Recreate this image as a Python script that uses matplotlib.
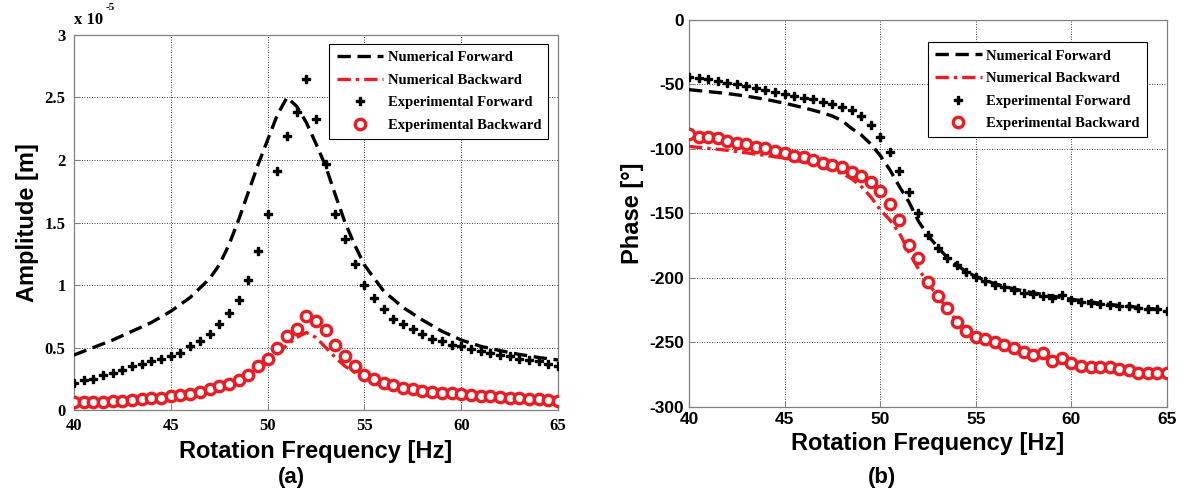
import numpy as np
import matplotlib
matplotlib.use('Agg')
import matplotlib.pyplot as plt
from matplotlib.ticker import FuncFormatter

plt.rcParams['axes.unicode_minus'] = False

# ---- data ----
# experimental points every 0.5 Hz
f_exp = np.arange(40, 65.01, 0.5)

# amplitude in units of 1e-5 m
amp_exp_fwd = [0.22, 0.24, 0.25, 0.28, 0.30, 0.32, 0.35, 0.37, 0.39, 0.41,
               0.43, 0.46, 0.51, 0.55, 0.61, 0.69, 0.78, 0.88, 1.04, 1.27,
               1.57, 1.91, 2.19, 2.38, 2.65, 2.33, 1.97, 1.57, 1.37, 1.17,
               1.00, 0.90, 0.81, 0.73, 0.69, 0.645, 0.605, 0.57, 0.55, 0.52,
               0.51, 0.49, 0.47, 0.46, 0.44, 0.43, 0.41, 0.40, 0.39, 0.37, 0.35]
amp_exp_bwd = [0.062, 0.064, 0.066, 0.068, 0.07, 0.075, 0.08, 0.085, 0.093, 0.10,
               0.11, 0.12, 0.13, 0.145, 0.165, 0.19, 0.21, 0.24, 0.28, 0.35,
               0.41, 0.50, 0.59, 0.65, 0.75, 0.71, 0.64, 0.52, 0.43, 0.35,
               0.28, 0.245, 0.22, 0.20, 0.18, 0.165, 0.155, 0.145, 0.14, 0.135,
               0.125, 0.12, 0.115, 0.11, 0.105, 0.10, 0.095, 0.09, 0.085, 0.08, 0.075]

f_num_fwd = [40, 41, 42, 43, 44, 45, 46, 47, 47.5, 48, 48.5, 49, 49.5, 50, 50.5,
             51, 51.5, 52, 52.5, 53, 53.5, 54, 54.5, 55, 56, 57, 58, 59, 60,
             61, 62, 63, 64, 65]
amp_num_fwd = [0.44, 0.50, 0.56, 0.63, 0.70, 0.79, 0.90, 1.05, 1.16, 1.32, 1.52,
               1.74, 1.96, 2.16, 2.36, 2.50, 2.43, 2.30, 2.13, 1.95, 1.72, 1.50,
               1.32, 1.16, 0.95, 0.82, 0.72, 0.63, 0.56, 0.51, 0.475, 0.445, 0.42, 0.40]

f_num_bwd = [40, 42, 44, 45, 46, 47, 48, 48.5, 49, 49.5, 50, 50.5, 51, 51.5, 52,
             52.5, 53, 53.5, 54, 54.5, 55, 56, 57, 58, 60, 62, 65]
amp_num_bwd = [0.06, 0.07, 0.09, 0.105, 0.125, 0.155, 0.20, 0.23, 0.27, 0.32, 0.38,
               0.45, 0.52, 0.58, 0.62, 0.58, 0.50, 0.42, 0.35, 0.30, 0.26, 0.20,
               0.17, 0.15, 0.12, 0.10, 0.08]

# phase in degrees
ph_exp_fwd = [-44, -45, -46, -47.3, -48.6, -50, -51.2, -53, -54.3, -55.6,
              -57.4, -58.7, -60.2, -61.5, -63.3, -65.4, -67.2, -69.8, -74.4, -81.4,
              -90.4, -102.3, -117, -133.5, -150, -166.7, -177, -184.8, -190, -195,
              -199, -202, -205.4, -207.2, -209.3, -211.4, -212.4, -214, -215.3, -213.5,
              -217, -218.3, -219, -220, -221, -221.8, -222, -223, -223.8, -223.8, -225.3]
ph_exp_bwd = [-88.4, -90.4, -90.4, -91.7, -93.5, -95.1, -96.4, -98.2, -99.5, -101.3,
              -103.4, -105.2, -106.5, -108.5, -110.6, -112.4, -114.2, -117.6, -120.9, -125.3,
              -132.3, -142.3, -155, -174.4, -184.7, -202.8, -214, -223.5, -233.9, -241,
              -245.5, -247.5, -249.4, -252, -254.5, -257.1, -259.7, -258.4, -264, -262.3,
              -266.2, -268.2, -268.8, -269.3, -268.8, -270.8, -271.3, -273.4, -273.4, -274, -274]

ph_num_fwd = [-54, -55.5, -57, -59, -61.5, -64.5, -68, -72, -74.5, -78, -84,
              -89, -96, -105, -116, -129, -141, -156, -167, -176, -184, -190,
              -195, -199, -204.5, -208.5, -211.5, -214, -216.5, -218.5, -220.5,
              -222, -223.5, -225]
ph_num_bwd = [-98, -101, -105, -107, -110, -114, -119, -123, -129, -137, -147,
              -155, -165, -180, -193, -204, -214, -223.5, -233.5, -241, -245.5,
              -249.5, -254.5, -259.5, -266, -269, -274]

labels = ['Numerical Forward', 'Numerical Backward',
          'Experimental Forward', 'Experimental Backward']

RED = '#ec1c24'
serif_b = {'family': 'Liberation Serif', 'weight': 'bold'}
sans_b = {'family': 'Liberation Sans', 'weight': 'bold'}

fig = plt.figure(figsize=(11.82, 4.95), dpi=100)
ax1 = fig.add_axes([0.0626, 0.1717, 0.4095, 0.7576])
ax2 = fig.add_axes([0.5829, 0.1778, 0.4044, 0.7818])


def draw(ax, y_nf, y_nb, y_ef, y_eb):
    ax.plot(f_num_fwd, y_nf, color='black', lw=2.4, ls=(0, (4, 2)), label=labels[0], zorder=3)
    ax.plot(f_num_bwd, y_nb, color=RED, lw=2.4, ls=(0, (4, 1.5, 1, 1.5)), label=labels[1], zorder=3)
    ax.plot(f_exp, y_ef, ls='none', marker='P', ms=6.4, color='black', mec='black',
            label=labels[2], zorder=4)
    ax.plot(f_exp, y_eb, ls='none', marker='o', ms=7.5, mfc='white', mec=RED, mew=2.4,
            label=labels[3], zorder=4)
    ax.set_xlim(40, 65)
    ax.set_xticks([40, 45, 50, 55, 60, 65])
    ax.grid(True, color='black', ls=(0, (1, 2)), lw=0.6)
    ax.tick_params(direction='in', length=4, color='#808080')
    for s in ax.spines.values():
        s.set_color('#808080')
        s.set_linewidth(0.9)
    ax.set_xlabel('Rotation Frequency [Hz]', fontdict=sans_b, fontsize=17, labelpad=4)


def legend(ax, anchor):
    leg = ax.legend(loc='upper right', bbox_to_anchor=anchor, borderaxespad=0,
                    prop={'family': 'Liberation Serif', 'weight': 'bold', 'size': 10.5},
                    fancybox=False, edgecolor='black', framealpha=1, handlelength=3.2,
                    labelspacing=0.64, handletextpad=0.3, borderpad=0.5)
    leg.get_frame().set_linewidth(0.8)


draw(ax1, amp_num_fwd, amp_num_bwd, amp_exp_fwd, amp_exp_bwd)
ax1.set_ylim(0, 3)
ax1.set_yticks([0, 0.5, 1, 1.5, 2, 2.5, 3])
ax1.yaxis.set_major_formatter(FuncFormatter(lambda v, p: '%g' % v))
ax1.tick_params(axis='y', pad=6)
ax1.tick_params(axis='x', pad=6)
for t in ax1.get_xticklabels() + ax1.get_yticklabels():
    t.set_fontfamily('Liberation Serif')
    t.set_fontweight('bold')
    t.set_fontsize(12)
ax1.set_ylabel('Amplitude [m]', fontdict=sans_b, fontsize=17, labelpad=4)
ax1.text(0.0, 1.018, 'x 10', transform=ax1.transAxes, fontdict=serif_b, fontsize=12,
         ha='left', va='bottom')
ax1.text(0.065, 1.06, '-5', transform=ax1.transAxes, fontdict=serif_b, fontsize=8,
         ha='left', va='bottom')
legend(ax1, (0.98, 0.977))

draw(ax2, ph_num_fwd, ph_num_bwd, ph_exp_fwd, ph_exp_bwd)
ax2.set_ylim(-300, 0)
ax2.set_yticks([-300, -250, -200, -150, -100, -50, 0])
for t in ax2.get_xticklabels() + ax2.get_yticklabels():
    t.set_fontfamily('Liberation Sans')
    t.set_fontweight('bold')
    t.set_fontsize(12.5)
ax2.set_ylabel('Phase [°]', fontdict=sans_b, fontsize=17, labelpad=4)
legend(ax2, (0.958, 0.943))

fig.text(291 / 1182, 1 - 477 / 495, '(a)', fontdict=sans_b, fontsize=16, ha='center', va='center')
fig.text(882 / 1182, 1 - 477 / 495, '(b)', fontdict=sans_b, fontsize=16, ha='center', va='center')

fig.savefig('out.png', dpi=100)
